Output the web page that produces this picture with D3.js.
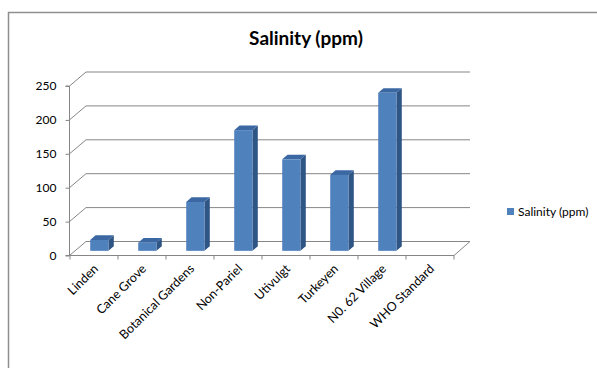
<!DOCTYPE html>
<html>
<head>
<meta charset="utf-8">
<script src="https://cdn.jsdelivr.net/npm/d3@7"></script>
<style>
  html, body { margin: 0; padding: 0; background: #fff; }
  svg { display: block; }
  text { font-family: Lato, "Open Sans", "Liberation Sans", sans-serif; fill: #000; }
</style>
</head>
<body>
<svg id="chart" width="597" height="368"></svg>
<script>
// Salinity readings by sampling site (ppm)
const categories = ["Linden", "Cane Grove", "Botanical Gardens", "Non-Pariel", "Utivulgt", "Turkeyen", "N0. 62 Village", "WHO Standard"];
const salinity = [16, 12, 72, 178, 135, 112, 233, null];
const yTicks = [0, 50, 100, 150, 200, 250];
const seriesName = "Salinity (ppm)";
const chartTitle = "Salinity (ppm)";

const svg = d3.select("#chart");
const W = 597, H = 368;

// Plot frame (front edge) and 3D depth offset
const x0 = 70, x1 = 454;
const yFront0 = 255.5, yFrontTop = 86;
const DX = 16, DY = -14;

const x = d3.scaleBand().domain(categories).range([x0, x1]).paddingInner(0).paddingOuter(0);
const y = d3.scaleLinear().domain([0, 250]).range([yFront0, yFrontTop]);

const gridColor = "#868686";

// Outer chart border (top and left edges)
svg.append("path")
  .attr("d", `M8.5,${H} L8.5,12.5 L${W},12.5`)
  .attr("fill", "none").attr("stroke", "#8f8f8f").attr("stroke-width", 1.5);

// Title
svg.append("text")
  .attr("x", 306).attr("y", 45)
  .attr("text-anchor", "middle")
  .style("font-size", "19px").style("font-weight", "bold")
  .text(chartTitle);

const grid = svg.append("g").attr("stroke", gridColor).attr("stroke-width", 1).attr("fill", "none");

// Back-wall gridlines and left-wall diagonals
yTicks.forEach(t => {
  const yy = y(t);
  grid.append("line")
    .attr("x1", x0 + DX).attr("x2", x1 + DX)
    .attr("y1", yy + DY).attr("y2", yy + DY);
  grid.append("line")
    .attr("x1", x0 - 0.5).attr("y1", yy)
    .attr("x2", x0 + DX).attr("y2", yy + DY);
});

// Floor front edge and right edge
grid.append("line").attr("x1", x0 - 0.5).attr("x2", x1).attr("y1", yFront0).attr("y2", yFront0);
grid.append("line").attr("x1", x1).attr("y1", yFront0).attr("x2", x1 + DX).attr("y2", yFront0 + DY);

// Value axis
const yAxis = d3.axisLeft(y).tickValues(yTicks).tickSize(4).tickPadding(9).tickFormat(d3.format("d"));
const yAxisG = svg.append("g").attr("transform", `translate(${x0 - 0.5},0)`).call(yAxis);
yAxisG.select(".domain").attr("stroke", gridColor).attr("d", `M-4,${yFrontTop}H0V${yFront0}H-4`);
yAxisG.selectAll(".tick line").attr("stroke", gridColor);
yAxisG.selectAll(".tick text").style("font-size", "12px").style("font-family", "Lato, 'Open Sans', sans-serif").attr("fill", "#000");

// Category tick marks at band boundaries
const boundaries = categories.map(c => x(c)).concat([x1]);
svg.append("g").selectAll("line").data(boundaries).join("line")
  .attr("x1", d => d).attr("x2", d => d)
  .attr("y1", yFront0).attr("y2", yFront0 + 4)
  .attr("stroke", gridColor);

// Category labels, rotated
svg.append("g").selectAll("text").data(categories).join("text")
  .attr("transform", d => `translate(${x(d) + x.bandwidth() / 2 + 5},${yFront0 + 14}) rotate(-45)`)
  .attr("text-anchor", "end")
  .style("font-size", "12.5px")
  .text(d => d);

// 3D columns: occupy the middle third of the depth
const barW = x.bandwidth() * 0.38;
const fdx = DX / 3, fdy = DY / 3;   // offset of the front face from the frame front
const bdx = DX / 3, bdy = DY / 3;   // column depth
const bars = svg.append("g");
categories.forEach((c, i) => {
  const v = salinity[i];
  if (v == null) return;
  const left = x(c) + (x.bandwidth() - barW) / 2 + fdx;
  const right = left + barW;
  const top = y(v) + fdy;
  const bottom = y(0) + fdy;
  // side face
  bars.append("path")
    .attr("d", `M${right},${top} L${right + bdx},${top + bdy} L${right + bdx},${bottom + bdy} L${right},${bottom} Z`)
    .attr("fill", "#2f5584");
  // top face
  bars.append("path")
    .attr("d", `M${left},${top} L${left + bdx},${top + bdy} L${right + bdx},${top + bdy} L${right},${top} Z`)
    .attr("fill", "#3b68a3");
  // front face
  bars.append("rect")
    .attr("x", left).attr("y", top)
    .attr("width", barW).attr("height", bottom - top)
    .attr("fill", "#4f81bd");
});

// Legend
const lg = svg.append("g").attr("transform", "translate(507,208)");
lg.append("rect").attr("width", 7).attr("height", 7).attr("fill", "#4f81bd");
lg.append("text").attr("x", 11).attr("y", 8).style("font-size", "12px").text(seriesName);
</script>
</body>
</html>
